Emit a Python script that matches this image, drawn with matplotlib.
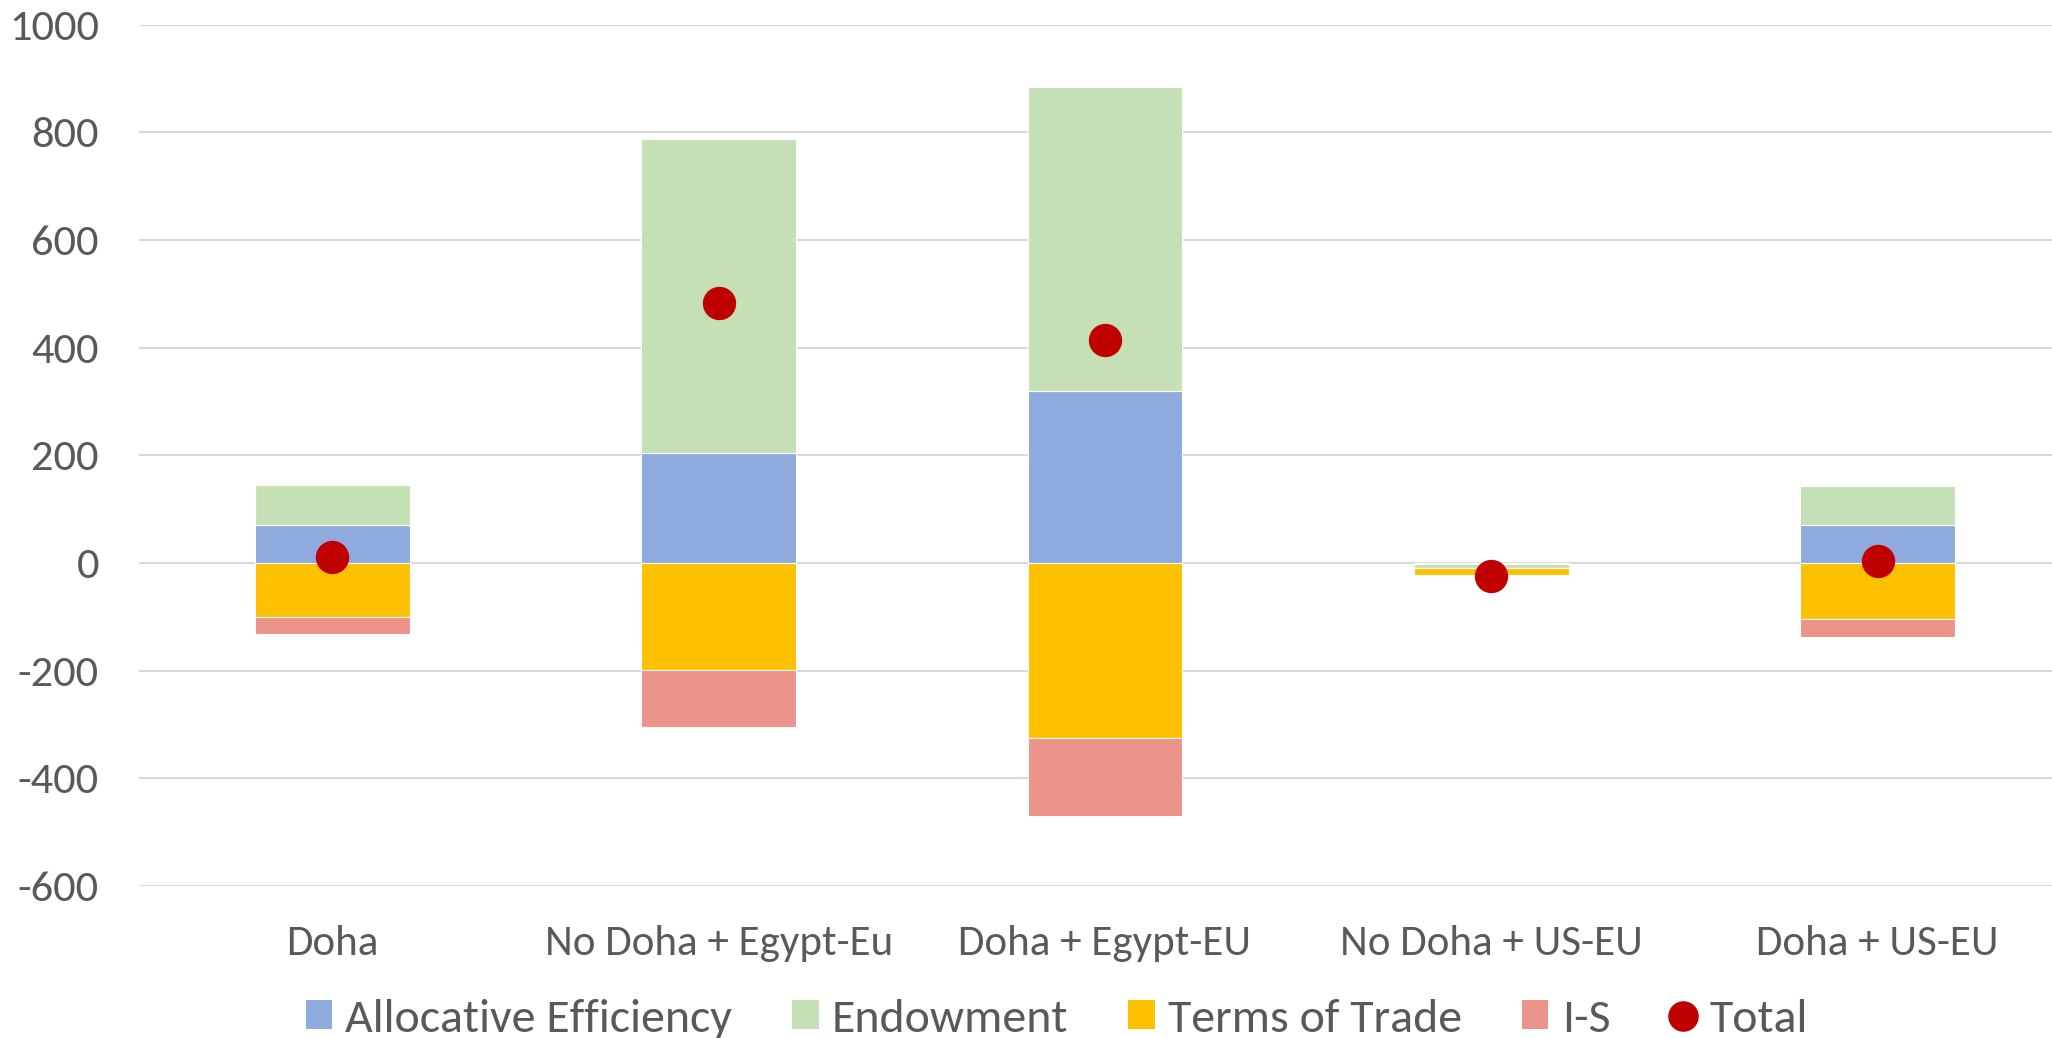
import matplotlib
matplotlib.use("Agg")
import matplotlib.pyplot as plt
from matplotlib import font_manager
from matplotlib.lines import Line2D
from matplotlib.patches import Patch
import numpy as np

categories = ["Doha", "No Doha + Egypt-Eu", "Doha + Egypt-EU", "No Doha + US-EU", "Doha + US-EU"]
allocative_efficiency = [70.6, 204.5, 319.0, -1.0, 70.6]
endowment = [73.4, 583.5, 566.0, -8.0, 71.8]
terms_of_trade = [-99.6, -198.7, -324.5, -13.0, -104.5]
i_s = [-32.8, -106.3, -145.5, -2.0, -32.9]
total = [12.0, 482.0, 415.0, -24.0, 4.0]

series_names = ["Allocative Efficiency", "Endowment", "Terms of Trade", "I-S"]
series_colors = ["#8FAADC", "#C5E0B4", "#FFC000", "#EC938A"]
total_color = "#C00000"
text_color = "#595959"

available = {f.name for f in font_manager.fontManager.ttflist}
family = [f for f in ["Carlito", "Lato", "DejaVu Sans"] if f in available]
plt.rcParams["font.family"] = family
plt.rcParams["axes.unicode_minus"] = False

fig = plt.figure(figsize=(20.52, 10.38), dpi=100)
ax = fig.add_axes([139.2 / 2052, 1 - 886 / 1038, 1931.5 / 2052, (886 - 24.6) / 1038])

x = np.arange(len(categories))
width = 0.40
pos_base = np.zeros(len(categories))
neg_base = np.zeros(len(categories))
for vals, color in zip([allocative_efficiency, endowment, terms_of_trade, i_s], series_colors):
    vals = np.asarray(vals, dtype=float)
    bottoms = np.where(vals >= 0, pos_base, neg_base)
    ax.bar(x, vals, width, bottom=bottoms, color=color, edgecolor="white",
           linewidth=0.8, zorder=2)
    pos_base = pos_base + np.where(vals >= 0, vals, 0)
    neg_base = neg_base + np.where(vals < 0, vals, 0)

ax.plot(x, total, linestyle="none", marker="o", markersize=23,
        color=total_color, markeredgecolor=total_color, zorder=3)

ax.set_xlim(-0.5, len(categories) - 0.5)
ax.set_ylim(-600, 1000)
ax.set_yticks(np.arange(-600, 1001, 200))
ax.set_xticks(x)
ax.set_xticklabels(categories)
ax.grid(axis="y", color="#D9D9D9", linewidth=1.5, zorder=0)
ax.set_axisbelow(True)
for s in ax.spines.values():
    s.set_visible(False)
ax.tick_params(axis="both", length=0, colors=text_color)
ax.tick_params(axis="y", pad=29, labelsize=32)
ax.tick_params(axis="x", pad=28, labelsize=31)

handles = [Patch(facecolor=c, edgecolor="none") for c in series_colors]
handles.append(Line2D([], [], linestyle="none", marker="o", markersize=21,
                      color=total_color))
leg = fig.legend(handles, series_names + ["Total"], loc="center",
                 bbox_to_anchor=(1057 / 2052, 1 - 1019 / 1038), ncol=5,
                 frameon=False, fontsize=34.5, handlelength=0.55, handleheight=0.55,
                 handletextpad=0.28, columnspacing=1.25, labelcolor=text_color)

fig.savefig("out.png", dpi=100)
